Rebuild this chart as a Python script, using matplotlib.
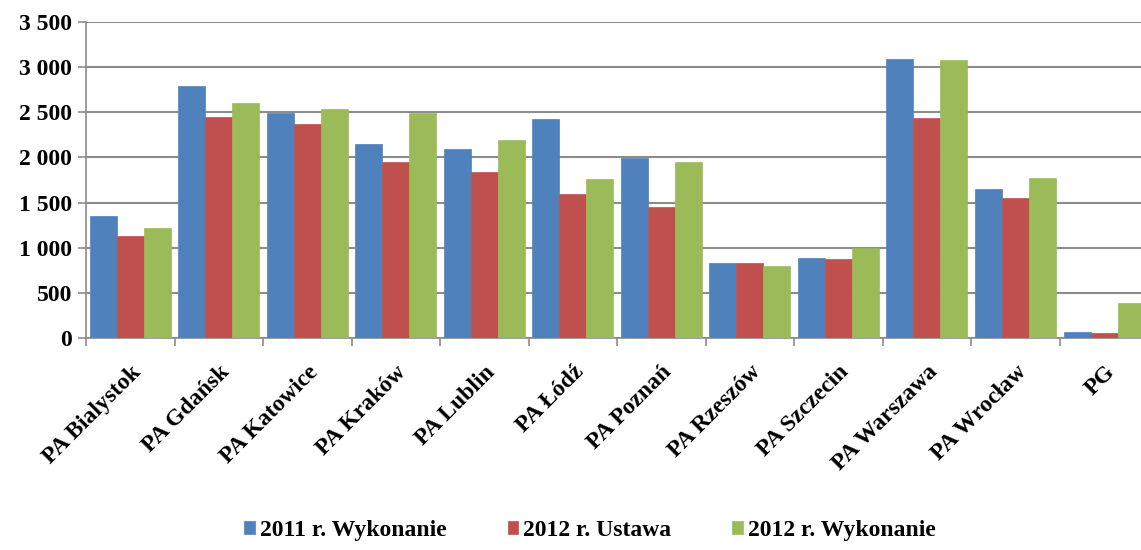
# wydatki jednostek PA w latach 2011-2012 - wykres slupkowy grupowany

import numpy as np
import matplotlib.pyplot as plt

kategorie = ['PA Bialystok', 'PA Gdańsk', 'PA Katowice', 'PA Kraków', 'PA Lublin',
             'PA Łódź', 'PA Poznań', 'PA Rzeszów', 'PA Szczecin', 'PA Warszawa',
             'PA Wrocław', 'PG']
wyk_2011 = [1350, 2790, 2490, 2150, 2090, 2430, 1990, 825, 890, 3090, 1650, 70]
ustawa_2012 = [1125, 2450, 2370, 1950, 1840, 1600, 1450, 825, 870, 2440, 1550, 55]
wyk_2012 = [1220, 2600, 2535, 2490, 2190, 1760, 1945, 800, 1000, 3080, 1770, 385]
serie = ['2011 r. Wykonanie', '2012 r. Ustawa', '2012 r. Wykonanie']
kolory = ['#4F81BD', '#C0504D', '#9BBB59']
y_ticks = [0, 500, 1000, 1500, 2000, 2500, 3000, 3500]
y_labels = ['0', '500', '1 000', '1 500', '2 000', '2 500', '3 000', '3 500']

plt.rcParams['font.family'] = 'Liberation Serif'
plt.rcParams['font.weight'] = 'bold'

fig = plt.figure(figsize=(11.41, 5.5), dpi=100)
ax = fig.add_axes([0.0754, 0.3855, 0.931, 0.5745])

x = np.arange(len(kategorie))
w = 0.305
for i, (dane, kol, nazwa) in enumerate(zip([wyk_2011, ustawa_2012, wyk_2012], kolory, serie)):
    ax.bar(x + (i - 1) * w, dane, width=w, color=kol, edgecolor=kol, linewidth=0.5,
           label=nazwa, zorder=3)

ax.set_xlim(-0.5, len(kategorie) - 0.5)
ax.set_ylim(0, 3500)
ax.set_yticks(y_ticks)
ax.set_yticklabels(y_labels, fontsize=17, fontweight='bold')
ax.grid(axis='y', color='#8c8c8c', linewidth=1.5, zorder=0)

ax.set_xticks(x)
ax.set_xticklabels(kategorie, rotation=45, ha='right', rotation_mode='anchor',
                   fontsize=17, fontweight='bold')
ax.tick_params(axis='x', which='major', length=0, pad=17)
ax.set_xticks(np.arange(-0.5, len(kategorie)), minor=True)
ax.tick_params(axis='x', which='minor', length=6, color='#8c8c8c', width=1.2)
ax.tick_params(axis='y', length=6, color='#8c8c8c', width=1.2, pad=4)

for s in ['top', 'right']:
    ax.spines[s].set_visible(False)
for s in ['left', 'bottom']:
    ax.spines[s].set_color('#8c8c8c')
    ax.spines[s].set_linewidth(1.2)

fig.legend(loc='center', bbox_to_anchor=(0.517, 0.036), ncol=3, frameon=False,
           prop={'size': 17, 'weight': 'bold'}, handlelength=0.45, handleheight=0.45,
           handletextpad=0.2, columnspacing=2.6)

fig.savefig('out.png', dpi=100)
